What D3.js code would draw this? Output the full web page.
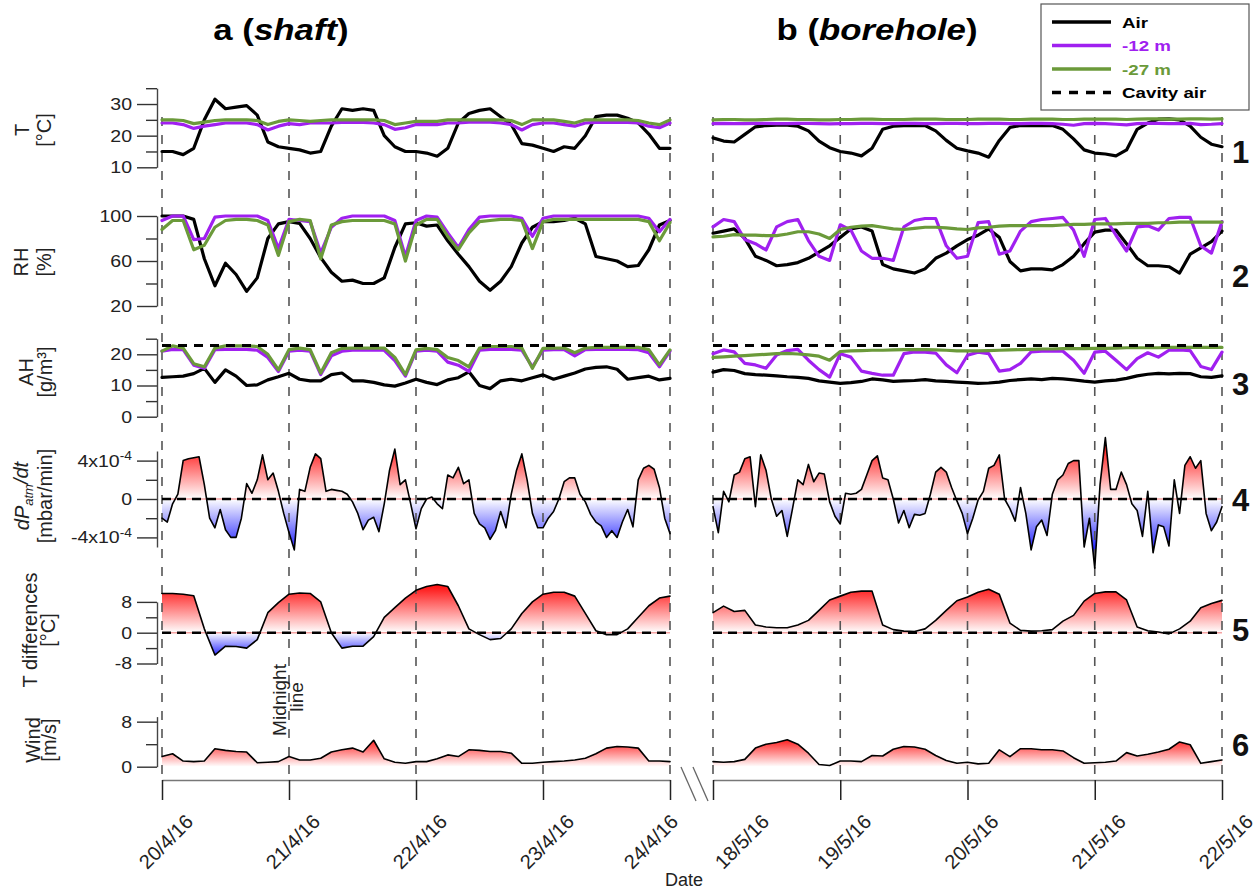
<!DOCTYPE html>
<html><head><meta charset="utf-8">
<script src="https://cdn.jsdelivr.net/npm/d3@7"></script>
<style>body{margin:0;background:#fff;} svg{display:block;font-family:"Liberation Sans",Arial,sans-serif;}</style>
</head><body><svg id="c" width="1260" height="892"></svg>
<script>
// ---------- DATA (2-hour steps, 0..96 h, unless noted) ----------
const ticksL = ["20/4/16","21/4/16","22/4/16","23/4/16","24/4/16"];
const ticksR = ["18/5/16","19/5/16","20/5/16","21/5/16","22/5/16"];
const tickHours = [0,24,48,72,96];

const tAirL=[15,15,14,16,25,31.5,28.5,29,29.5,26.5,18,16.5,16,15.5,14.5,15,23,28.5,28,28.5,28,20,16.5,15,15,14.5,13.5,16,24,27,28,28.5,26,23.5,17.5,17,16,15,16.5,16,20,26,26.5,26.5,25.5,24,20.5,16,16];
const t12L=[24,24,23.5,22.3,23,23.5,24,24,24,23.5,21.8,23,23.8,23.5,24,24,24,24.2,24.2,24.2,24,23.5,22,22.5,23.5,23.5,23.5,24,24,24.3,24.3,24.3,24,23.5,21.8,23.5,24,24,23.5,23,24,24.2,24.2,24.2,24.2,24,23,22.5,24];
const t27L=[25,25,24.8,23.8,24.3,24.8,25,25,25,24.8,23.5,24.5,25,24.8,24.5,24.8,25,25,25,25,25,24.8,23.5,24,24.5,24.5,24.5,25,25,25,25,25,25,24.8,23.5,25,25,25,24.5,24,25,25,25,25,25,24.8,24,23.5,25];
const tAirR=[19.3,18.3,18,20.4,22.8,23.2,23.3,23.3,23,21.5,18.3,16.2,15,14.5,13.6,16,22,23,23.2,23.2,23.2,21.5,18.5,16,15.2,14.5,13.2,18.5,22.6,23.2,23.2,23.2,23.2,22,19,15.5,14.5,14.2,13.6,15.5,22,24,25.2,25.3,25,23,19.5,17.3,16.5];
const t12R=[23.8,23.9,23.8,23.8,23.9,23.9,23.8,23.8,23.9,23.9,23.8,23.7,23.8,23.8,23.9,23.9,23.8,23.8,23.9,23.9,23.8,23.8,23.9,23.9,23.8,23.8,23.9,23.9,23.8,23.8,23.9,23.9,23.8,23.6,23.3,23.8,23.9,23.8,23.6,23.4,23.8,23.9,23.9,23.8,23.8,23.9,23.5,23.6,23.8];
const t27R=[25,25.1,25.1,25,25,25.1,25.2,25.2,25.1,25.1,25,25,25.1,25.1,25.2,25.2,25.1,25.1,25.1,25.2,25.2,25.2,25.1,25.1,25.1,25.2,25.2,25.2,25.1,25.1,25.2,25.2,25.2,25.1,25.1,25.2,25.2,25.2,25.2,25.1,25.2,25.3,25.3,25.2,25.2,25.3,25.3,25.2,25.3];

const rhAirL=[100,100,100,97,62,38,58,48,33,45,80,93,95,93.5,80,63,50,42,43,40,40,45,72,93,94,91,92,78,66,55,42,34,42,55,76,90,95,95,96,98,93,64,62,60,55,56,70,92,96];
const rh12L=[96,100,100,79,80,99,100,100,100,100,96,71,97,96,95,67,90,98,100,100,100,100,96,64,96,100,99,85,72,88,99,100,100,100,98,82,98,100,100,100,100,100,100,100,100,100,98,86,97];
const rh27L=[88,96,96,70,74,90,96,97,97,96,92,65,95,97,96,62,92,95,96,96,96,96,93,60,92,97,97,82,70,85,95,96,97,97,96,71,95,97,97,97,97,97,97,97,97,97,95,78,94];
const rhAirR=[84.7,86.6,88.5,80.1,64.2,60.5,55.8,56.8,58.6,62.4,67.9,73.5,81,88.5,90.3,86.6,56.8,53,51.2,49.3,53,62.4,67,73.5,79.1,82.9,88.5,81,59.6,51.2,53,53,52.1,56.8,64.2,75.4,85.7,87.5,87.5,75.4,62.4,55.8,55.8,54.9,49.3,66.1,71.7,77.3,86.6];
const rh12R=[90.3,96.9,95,79.1,75.4,69.8,90.3,95,96.9,78.2,64.2,60.5,92.2,87.5,68.9,62.4,62.4,60.5,90.3,96,97.8,97.8,73.5,62.4,64.2,94.1,95,66.1,68.9,86.6,95,96.9,97.8,98.7,87.5,64.2,96.9,97.8,82.9,68.9,90.3,91.3,87.5,97.8,98.7,98.7,73.5,67,95];
const rh27R=[81.5,82,83.5,83,83,82.5,82.5,84,86,86,84,80,88,90,91,91.5,90,88.5,88,89,90,90,89.5,88.5,88,89.5,90,91,91.5,91.5,91.5,91.5,91.5,92,92.5,92.5,93,93,93,93.5,93.5,93.5,94,94,94.5,94.5,94.5,94.5,94.5];

const ahAirL=[12.6,12.8,13,13.8,15.5,11,15,13,10,10.2,11.8,12.8,13.9,12,11.5,11.5,13.5,14,11.5,11.5,11,10.2,9.8,10.8,12,11,10.3,11.8,12.5,14.4,10,9,11.5,12,11.5,12.5,13.4,12,13,14,15.3,15.8,16,15.2,12,12.5,13,11.8,12.3];
const ah12L=[21,21.6,21.5,16.5,15.5,21.5,21.6,21.6,21.6,21.3,19,14.5,21,21.3,21,13.5,19.5,21,21.3,21.3,21.3,21.3,18,13,21,21.3,21,17.5,16.5,14.5,21.3,21.6,21.6,21.6,21.3,16,21.3,21.5,21.5,19.5,21.5,21.6,21.6,21.6,21.6,21.5,20.5,16,21];
const ah27L=[21,22.7,22,17,16,22,22.7,22.7,22.7,22.5,20,15,21.5,22,21.5,14,20.5,21.9,22,22,22,22,19,13.5,21.4,21.9,21.5,19,18,16,22,22.5,22.5,22.5,22,15.5,21.9,22,22,20.5,22,22.2,22.2,22.2,22.2,22.2,21.5,16.6,21.4];
const ahAirR=[14.3,15.1,14.8,13.8,13.5,13.3,13.1,12.8,12.6,12.3,11.5,11.1,10.7,10.9,11.3,12.1,11.8,11.3,11.5,11.6,11.9,11.5,11.3,11.1,10.9,10.7,10.8,11.1,11.6,11.9,12.1,11.9,12.3,12.1,11.8,11.4,11.1,11.5,11.7,12.3,13.1,13.6,13.9,13.7,13.9,13.8,12.8,12.6,13.1];
const ah12R=[20.2,21.4,20.8,17.1,16.6,15.5,19.8,21.2,21.6,18.1,15.1,12.7,20.2,19.1,14.6,13.9,13.3,13.3,20.2,20.8,20.7,20.4,16.6,14.1,19.7,20.7,20.2,14.6,15.1,17.1,20.8,21,21,21,18.1,13.9,20.7,21,18.1,15.1,18.6,20.5,19.1,21.3,21.4,21.2,16.1,15.1,20.7];
const ah27R=[19,19.2,19.4,19.6,19.8,20,20.2,20.3,20.1,19.8,19.4,18.1,20.9,21.1,21.2,21.3,21.3,21.4,21.5,21.5,21.5,21.4,21.3,21.1,21.1,21.1,21.2,21.3,21.4,21.5,21.6,21.7,21.7,21.8,21.8,21.8,21.9,21.9,22,22.1,22.1,22.1,22.1,22.2,22.2,22.2,22.2,22.2,22.2];
const cavityAH = 22.8;

// dP_atm/dt in units of 1e-4 mbar/min, 1-hour steps
const dpL=[-2.0,-2.4,-0.5,0.5,4.0,4.2,4.3,4.4,1.5,-2.0,-3.0,-1.1,-3.2,-4.0,-4.0,-2.0,1.6,0.6,2.0,4.6,2.0,2.7,0.8,-1.5,-3.5,-5.3,1.0,0.8,3.3,4.7,4.2,0.8,1.0,0.9,0.8,0.5,-0.3,-1.5,-3.2,-2.2,-1.9,-3.4,-0.5,3.0,5.2,1.5,2.0,-0.5,-3.1,-1.0,0.0,0.2,-0.5,-1.0,2.5,2.2,3.3,1.6,2.0,-1.5,-2.6,-3.0,-4.2,-3.3,-1.3,-3.0,0.5,3.0,4.7,2.0,-1.5,-3.0,-3.0,-2.0,-1.3,0.0,1.8,2.2,2.2,0.5,-0.3,-1.6,-2.4,-2.8,-4.0,-3.3,-4.0,-2.4,-1.1,-2.9,2.0,3.2,3.5,3.1,1.2,-2.0,-3.6];
const dpR=[-0.8,-3.5,0.8,-0.3,2.5,2.8,4.2,4.4,-0.8,4.6,3.0,0.0,-1.8,-1.2,-3.9,-1.0,2.0,1.5,3.6,1.8,2.7,2.6,-0.3,-1.8,-2.6,0.6,0.5,0.6,1.0,2.5,4.0,4.5,2.2,2.0,0.0,-2.5,-1.2,-3.0,-1.6,-1.7,-1.5,0.5,2.8,3.3,2.8,1.2,-0.2,-1.5,-3.6,-2.0,-0.1,0.8,3.2,3.5,4.6,0.0,-1.0,-2.3,1.2,-1.5,-5.3,-2.9,-2.2,-3.8,0.5,2.0,2.5,3.7,4.0,4.0,-5.0,-2.0,-7.2,1.5,6.4,1.0,1.0,2.8,1.5,-0.5,-1.2,-3.9,0.8,-5.6,-2.7,-2.9,-4.9,2.0,-1.5,3.5,4.4,3.2,4.0,-1.5,-3.3,-2.4,-0.8];

const tdL=[10.2,10.2,10,9.6,1.0,-5.8,-3.5,-3.6,-4,-1.8,5.2,7.8,10,10.3,10.2,8,0,-4,-3.5,-3.5,-1,4,6.5,9,11,12,12.5,12,7,1,-0.5,-1.8,-1.5,1,5,8,10,10.5,10.5,9.5,5,0.5,-0.5,-0.5,1,4,7,9,9.5];
const tdR=[5.2,6.9,5.5,5.8,2.0,1.5,1.3,1.3,2.0,3.2,5.8,8.5,9.5,10.5,10.8,10.8,2.0,0.8,0.4,0.3,1.0,3.2,5.8,8.3,9.3,10.5,11.3,10.0,2.5,0.6,0.4,0.5,0.8,3.0,4.5,8.2,10.2,10.6,10.6,8.5,1.5,0.5,0.2,-0.3,1.0,3.0,6.5,7.6,8.4];

const wdL=[1.8,2.3,1.0,0.9,1.0,3.2,2.9,2.7,2.6,0.7,0.8,0.9,1.8,1.2,1.2,1.5,2.6,3.0,3.3,2.6,4.7,1.4,0.8,0.6,0.9,0.9,1.4,2.1,1.8,3.0,2.9,2.7,2.7,2.4,0.6,0.6,0.8,0.9,1.0,1.2,1.5,2.3,3.3,3.6,3.5,3.3,1.0,1.0,0.9];
const wdR=[0.9,0.8,0.9,1.3,3.3,4.0,4.3,4.8,4.0,2.4,0.4,0.2,1.0,1.0,0.9,2.0,1.9,3.1,3.6,3.5,3.1,2.0,1.1,0.6,0.8,0.5,0.6,3.0,1.8,3.2,3.2,3.0,3.0,2.8,1.6,0.6,0.7,0.8,1.0,2.5,1.9,2.2,2.6,3.1,4.4,3.9,0.6,0.9,1.2];

const legendLabels = ["Air","-12 m","-27 m","Cavity air"];

// ---------- STYLE ----------
const PURPLE="#a020f0", GREEN="#6b9a3a", FONT='"Liberation Sans", Arial, sans-serif';
const W=1260,H=892;
const svg=d3.select("#c");
const defs=svg.append("defs");

const xL=d3.scaleLinear().domain([0,96]).range([162,670]);
const xR=d3.scaleLinear().domain([0,96]).range([713,1222]);

const yT=d3.scaleLinear().domain([10,35]).range([167.3,88.2]);
const yRH=d3.scaleLinear().domain([20,100]).range([306,216]);
const yAH=d3.scaleLinear().domain([0,25]).range([416.7,338.7]);
const yDP=d3.scaleLinear().domain([-5,5]).range([547,451]);
const yTD=d3.scaleLinear().domain([-8,8]).range([663.5,601.9]);
const yW=d3.scaleLinear().domain([0,8.9]).range([766.7,716.6]);

const gFill=svg.append("g"), gMid=svg.append("g"), gLines=svg.append("g"), gTop=svg.append("g");

function path(g,x,y,data,step,color,w,dash){
  const ln=d3.line().x((d,i)=>x(i*step)).y(d=>y(d));
  const p=g.append("path").attr("d",ln(data)).attr("fill","none").attr("stroke",color)
   .attr("stroke-width",w).attr("stroke-linejoin","round").attr("stroke-linecap","round");
  if(dash) p.attr("stroke-dasharray",dash);
  return p;
}
let gid=0;
function fillArea(x,y,data,step,redTop,blueBot){
  const id=gid++; const y0=y(0);
  const r=defs.append("linearGradient").attr("id","gr"+id).attr("gradientUnits","userSpaceOnUse").attr("x1",0).attr("x2",0).attr("y1",y0).attr("y2",y(redTop));
  r.append("stop").attr("offset",0).attr("stop-color","#ffffff");
  r.append("stop").attr("offset",1).attr("stop-color","#ff0000");
  const b=defs.append("linearGradient").attr("id","gb"+id).attr("gradientUnits","userSpaceOnUse").attr("x1",0).attr("x2",0).attr("y1",y0).attr("y2",y(blueBot));
  b.append("stop").attr("offset",0).attr("stop-color","#ffffff");
  b.append("stop").attr("offset",1).attr("stop-color","#0000ff");
  defs.append("clipPath").attr("id","cr"+id).append("rect").attr("x",0).attr("y",0).attr("width",W).attr("height",y0);
  defs.append("clipPath").attr("id","cb"+id).append("rect").attr("x",0).attr("y",y0).attr("width",W).attr("height",H-y0);
  const ar=d3.area().x((d,i)=>x(i*step)).y0(y0).y1(d=>y(d));
  gFill.append("path").attr("d",ar(data)).attr("fill",`url(#gr${id})`).attr("clip-path",`url(#cr${id})`);
  gFill.append("path").attr("d",ar(data)).attr("fill",`url(#gb${id})`).attr("clip-path",`url(#cb${id})`);
}
function hline(g,x,yv,color,w,dash){
  const l=g.append("line").attr("x1",x.range()[0]).attr("x2",x.range()[1]).attr("y1",yv).attr("y2",yv)
    .attr("stroke",color).attr("stroke-width",w);
  if(dash) l.attr("stroke-dasharray",dash);
}

// ---------- PANELS ----------
for(const [x,side] of [[xL,"L"],[xR,"R"]]){
  const D = side==="L" ? {
    tA:tAirL,t1:t12L,t2:t27L,rA:rhAirL,r1:rh12L,r2:rh27L,aA:ahAirL,a1:ah12L,a2:ah27L,dp:dpL,td:tdL,wd:wdL} : {
    tA:tAirR,t1:t12R,t2:t27R,rA:rhAirR,r1:rh12R,r2:rh27R,aA:ahAirR,a1:ah12R,a2:ah27R,dp:dpR,td:tdR,wd:wdR};
  fillArea(x,yDP,D.dp,1,6,-6);
  fillArea(x,yTD,D.td,2,13,-7);
  fillArea(x,yW,D.wd,2,5.5,-5);
  hline(gFill,x,yDP(0),"#f5a3a3",1.5);
  hline(gFill,x,yTD(0),"#f5a3a3",1.5);
  tickHours.forEach(h=>{
    gMid.append("line").attr("x1",x(h)).attr("x2",x(h)).attr("y1",117).attr("y2",780)
      .attr("stroke","#555").attr("stroke-width",1.6).attr("stroke-dasharray","9,9");
  });
  path(gLines,x,yT,D.tA,2,"#000",3.2);
  path(gLines,x,yT,D.t1,2,PURPLE,3.2);
  path(gLines,x,yT,D.t2,2,GREEN,3.2);
  path(gLines,x,yRH,D.rA,2,"#000",3.2);
  path(gLines,x,yRH,D.r1,2,PURPLE,3.2);
  path(gLines,x,yRH,D.r2,2,GREEN,3.2);
  path(gLines,x,yAH,D.aA,2,"#000",3.2);
  path(gLines,x,yAH,D.a1,2,PURPLE,3.2);
  path(gLines,x,yAH,D.a2,2,GREEN,3.2);
  hline(gTop,x,yAH(cavityAH),"#000",3,"9,7");
  path(gLines,x,yDP,D.dp,1,"#000",1.6);
  path(gLines,x,yTD,D.td,2,"#000",1.6);
  path(gLines,x,yW,D.wd,2,"#000",1.6);
  hline(gTop,x,yDP(0),"#000",2.6,"9,6");
  hline(gTop,x,yTD(0),"#000",2.6,"9,6");
  // bottom axis
  const labels = side==="L"?ticksL:ticksR;
  const ax=svg.append("g").attr("transform","translate(0,780)");
  ax.call(d3.axisBottom(x).tickValues(tickHours).tickSize(20).tickSizeOuter(0)
     .tickFormat((d,i)=>labels[i]));
  ax.select(".domain").attr("stroke","#777").attr("stroke-width",1.5);
  ax.selectAll(".tick line").attr("stroke","#222").attr("stroke-width",1.5);
  ax.selectAll(".tick text").attr("font-family",FONT).attr("font-size",20).attr("fill","#222")
    .attr("x",0).attr("y",0).attr("dy","0.35em").attr("text-anchor","end")
    .attr("transform",(d,i)=>{
      let dx=27;
      if(side==="L"&&i===4) dx=4;
      if(side==="R"&&i===0) dx=52;
      return `translate(${dx},38) rotate(-45)`;
    });
}

// ---------- Y AXES ----------
function yAxis(y,major,minor,fmt){
  const ax=svg.append("g").attr("transform","translate(157,0)");
  ax.call(d3.axisLeft(y).tickValues(major).tickSize(20).tickSizeOuter(0).tickPadding(4).tickFormat(fmt||(d=>d)));
  ax.append("g").attr("class","minor").call(d3.axisLeft(y).tickValues(minor).tickSize(11).tickSizeOuter(0).tickFormat("")).select(".domain").remove();
  ax.selectAll(".domain").attr("stroke","#444").attr("stroke-width",1.4);
  ax.selectAll(".tick line").attr("stroke","#333").attr("stroke-width",1.4);
  ax.selectAll(".minor text").remove();
  ax.selectAll(".tick text").attr("font-family",FONT).attr("font-size",17).attr("fill","#222")
    .attr("x",-25/1.15).attr("transform","scale(1.15,1)");
  return ax;
}
yAxis(yT,[10,20,30],[15,25,35]);
yAxis(yRH,[20,60,100],[40,80]);
yAxis(yAH,[0,10,20],[5,15,25]);
const dpAx=yAxis(yDP,[-4,0,4],[-2,2]);
dpAx.selectAll(".tick text").each(function(d){
  if(d===0) return;
  const t=d3.select(this); t.text("");
  t.append("tspan").text((d<0?"-":"")+"4x10");
  t.append("tspan").attr("dy","-0.55em").attr("font-size",12).text("-4");
});
yAxis(yTD,[-8,0,8],[-4,4]);
yAxis(yW,[0,8],[4]);

// ---------- Y TITLES ----------
function yTitle(lines,cy){
  lines.forEach(([txt,bx])=>{
    const t=svg.append("text").attr("transform",`translate(${bx},${cy}) rotate(-90)`)
      .attr("text-anchor","middle").attr("font-family",FONT).attr("font-size",20).attr("fill","#222");
    if(typeof txt==="function") txt(t); else t.text(txt);
  });
}
yTitle([["T",29],["[°C]",51]],130);
yTitle([["RH",28],["[%]",51]],262);
yTitle([["AH",33],["[g/m³]",52]],372);
yTitle([[t=>{
  t.append("tspan").attr("font-style","italic").text("dP");
  t.append("tspan").attr("font-style","italic").attr("font-size",13).attr("dy","0.3em").text("atm");
  t.append("tspan").attr("font-style","italic").attr("dy","-0.25em").text("/dt");
},29],["[mbar/min]",52]],496);
yTitle([["T differences",37],["[°C]",55]],630);
yTitle([["Wind",40],["[m/s]",56]],740);

// ---------- TITLES / LABELS ----------
function title(x,parts){
  const t=svg.append("text").attr("transform",`translate(${x},40) scale(1.2,1)`).attr("text-anchor","middle")
   .attr("font-family",FONT).attr("font-size",29).attr("font-weight","bold").attr("fill","#000");
  parts.forEach(([s,it])=>t.append("tspan").attr("font-style",it?"italic":"normal").text(s));
}
title(281,[["a (",0],["shaft",1],[")",0]]);
title(877,[["b (",0],["borehole",1],[")",0]]);

["1","2","3","4","5","6"].forEach((s,i)=>{
  const cy=[152,276,384,500,630,745][i];
  svg.append("text").attr("x",1232).attr("y",cy+11).attr("font-family",FONT).attr("font-size",31)
    .attr("font-weight","bold").attr("fill","#111").text(s);
});

svg.append("text").attr("font-family",FONT).attr("font-size",19).attr("fill","#222").attr("text-anchor","middle")
  .attr("transform","translate(286,700) rotate(-90)").text("Midnight");
svg.append("text").attr("font-family",FONT).attr("font-size",19).attr("fill","#222").attr("text-anchor","middle")
  .attr("transform","translate(303,697) rotate(-90)").text("line");

svg.append("text").attr("x",684).attr("y",886).attr("text-anchor","middle").attr("font-family",FONT)
  .attr("font-size",18).attr("fill","#222").text("Date");

[[681,696],[693,708]].forEach(([a,b])=>{
  svg.append("line").attr("x1",a).attr("y1",767).attr("x2",b).attr("y2",801).attr("stroke","#666").attr("stroke-width",1.3);
});

// ---------- LEGEND ----------
const lg=svg.append("g");
lg.append("rect").attr("x",1041).attr("y",4).attr("width",208).attr("height",106)
  .attr("fill","#fff").attr("stroke","#555").attr("stroke-width",1.2);
const lgCol=["#000",PURPLE,GREEN,"#000"];
legendLabels.forEach((s,i)=>{
  const yy=22+i*23.5;
  lg.append("line").attr("x1",1052).attr("x2",1111).attr("y1",yy).attr("y2",yy).attr("stroke",lgCol[i])
    .attr("stroke-width",3.5).attr("stroke-dasharray",i===3?"9,8":null);
  lg.append("text").attr("transform",`translate(1122,${yy+5.5}) scale(1.25,1)`).attr("font-family",FONT)
    .attr("font-size",15).attr("font-weight","bold").attr("fill",lgCol[i]).text(s);
});
</script></body></html>
